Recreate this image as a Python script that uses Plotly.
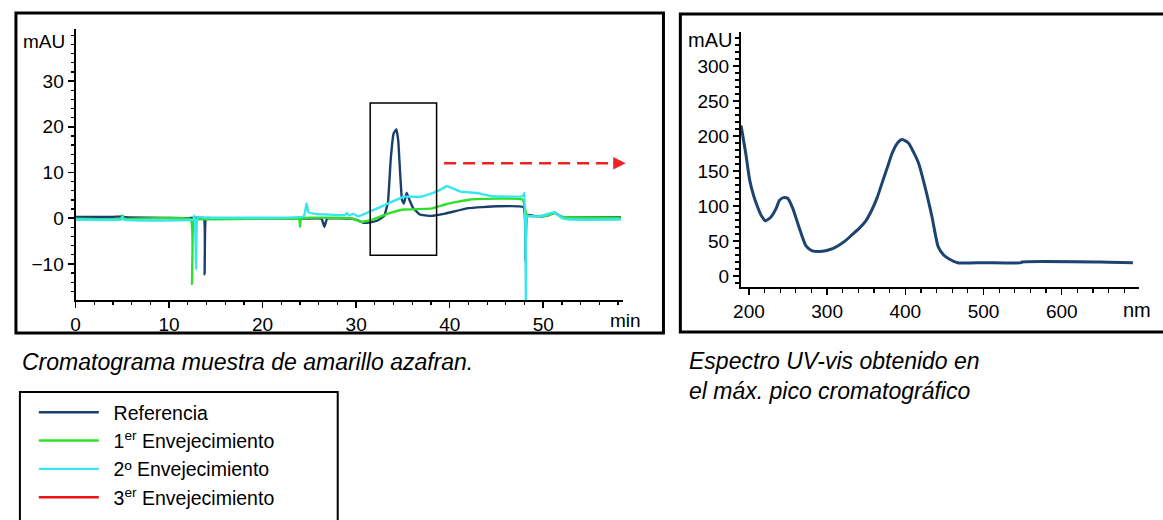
import plotly.graph_objects as go

# ---------------- data ----------------
# Chromatogram (time in min, absorbance in mAU)
ref_t = [0, 2, 4, 5.0, 5.3, 8, 12, 13.7, 13.8, 13.95, 14.5, 20, 24, 26.3, 26.6, 26.9, 29.5, 30.2,
         30.8, 31.5, 32.3, 33.0, 33.4, 33.7, 34.0, 34.3, 34.5, 34.7, 34.9, 35.1, 35.4, 35.7, 36.1,
         36.8, 38, 39.5, 42, 45, 47.9, 48.1, 48.3, 49.5, 50.5, 51.2, 52, 58.3]
ref_mau = [0.3, 0.3, 0.3, 0.4, 0.2, 0.1, 0.0, 0.0, -12.3, 0.0, 0.0, 0.0, -0.1, -0.1, -1.9, -0.1,
           -0.1, -0.5, -1.0, -0.9, -0.5, 0.5, 3.5, 13.0, 18.5, 19.5, 17.0, 10.0, 4.0, 3.2, 5.6, 4.0,
           2.2, 0.8, 0.5, 1.0, 2.2, 2.6, 2.4, -9.5, 0.7, 0.3, 0.6, 1.2, 0.3, 0.2]

env1_t = [0, 4.9, 5.0, 5.2, 12.3, 12.45, 12.6, 12.8, 20, 23.9, 24.0, 24.1, 25, 29.5, 30.5, 31.5,
          33.4, 35.1, 38, 39.7, 42.2, 47.8, 48.2, 48.5, 50.5, 51.2, 52, 58.3]
env1_mau = [-0.1, -0.1, 0.6, -0.1, -0.2, -14.4, 0.3, -0.2, -0.1, -0.2, -1.9, -0.1, 0.1, 0.0, -0.8,
            -0.5, 1.0, 1.9, 2.1, 3.1, 4.1, 4.1, 0.8, 0.4, 0.6, 1.2, 0.3, 0.1]

env2_t = [0, 4.9, 5.0, 5.2, 12.6, 12.75, 12.9, 13.05, 14, 20, 24.4, 24.7, 24.9, 25.5, 27, 28.8,
          29.0, 29.3, 29.7, 30.2, 31.2, 33.4, 35.1, 36.9, 38.6, 39.7, 41.2, 42.9, 44.6, 47.8, 48.0,
          48.15, 48.3, 49.5, 51.2, 52, 53, 58.3]
env2_mau = [-0.3, -0.3, 0.3, -0.3, -0.3, 0.6, -11.2, 0.2, 0.1, 0.1, 0.4, 3.2, 1.3, 1.0, 0.8, 0.7,
            1.1, 0.6, 1.0, 0.4, 1.2, 3.2, 4.7, 4.7, 5.8, 7.0, 5.8, 5.5, 4.8, 4.8, 5.5, -19.0, 0.5,
            0.3, 1.3, 0.0, -0.3, -0.3]

env3_t = []
env3_mau = []

series_names = ["Referencia", "1<sup>er</sup> Envejecimiento", "2º Envejecimiento",
                "3<sup>er</sup> Envejecimiento"]
series_colors = ["#1b3f6c", "#2fe02a", "#38e6f0", "#ee1515"]

# UV-vis spectrum (nm, mAU)
wl_nm = [190, 196, 201, 206, 211, 216, 221, 226, 230, 235, 239, 244, 249.5, 256, 264, 273, 281,
         290, 298, 307, 315, 324, 332, 341, 349, 357, 364, 370, 377, 383, 390, 396, 404, 410, 417,
         425, 434, 442, 449, 455, 467, 500, 548, 549, 650, 691]
spec_mau = [215, 175, 137, 115, 99, 86, 79, 82, 87, 97, 108, 112, 111, 97, 70, 43, 36, 35, 36, 39,
            44, 51, 59, 68, 78, 94, 112, 132, 155, 175, 190, 195, 190, 178, 161, 128, 85, 42, 30,
            25, 19, 19, 19, 20, 20, 19]

chrom_ticks = [0, 10, 20, 30, 40, 50]
chrom_yticks = [-10, 0, 10, 20, 30]
spec_xticks = [200, 300, 400, 500, 600]
spec_yticks = [0, 50, 100, 150, 200, 250, 300]

# ---------------- figure ----------------
W, H = 1163, 520
FONT = "Liberation Sans, Arial, sans-serif"


def px(x):
    return x / W


def py(y):
    return (H - y) / H


fig = go.Figure()
chrom = [(ref_t, ref_mau), (env1_t, env1_mau), (env2_t, env2_mau), (env3_t, env3_mau)]
for (t, v), name, col in zip(chrom, series_names, series_colors):
    fig.add_trace(go.Scatter(
        x=t if t else [None], y=v if v else [None], mode="lines", name="\u2002" + name,
        line=dict(color=col, width=2.4, shape="spline", smoothing=0.3), xaxis="x", yaxis="y"))

fig.add_trace(go.Scatter(x=wl_nm, y=spec_mau, mode="lines", showlegend=False,
                         line=dict(color="#1d4470", width=3, shape="spline", smoothing=0.6),
                         xaxis="x2", yaxis="y2"))

axis_common = dict(showline=True, linecolor="black", linewidth=2, ticks="outside", ticklen=6,
                   tickwidth=1.5, tickcolor="black", showgrid=False, zeroline=False,
                   tickfont=dict(family=FONT, size=19, color="black"))

fig.update_layout(
    width=W, height=H, margin=dict(l=0, r=0, t=0, b=0),
    paper_bgcolor="white", plot_bgcolor="white",
    xaxis=dict(domain=[px(68), px(619)], range=[0, 58.5], tickvals=chrom_ticks,
               anchor="y", minor=dict(ticks="outside", ticklen=3, dtick=2, tick0=0,
                                      tickcolor="black", tickwidth=1.2), **axis_common),
    yaxis=dict(domain=[py(300), py(29)], range=[-17.9, 41.4], tickvals=chrom_yticks,
               anchor="x", minor=dict(ticks="outside", ticklen=3, dtick=2, tick0=0,
                                      tickcolor="black", tickwidth=1.2), **axis_common),
    xaxis2=dict(domain=[px(738), px(1139)], range=[189.8, 699], tickvals=spec_xticks,
                anchor="y2", minor=dict(ticks="outside", ticklen=4, dtick=20, tick0=0,
                                        tickcolor="black", tickwidth=1.2), **axis_common),
    yaxis2=dict(domain=[py(287), py(32)], range=[-15.7, 348.6], tickvals=spec_yticks,
                anchor="x2", minor=dict(ticks="outside", ticklen=4, dtick=10, tick0=0,
                                        tickcolor="black", tickwidth=1.2), **axis_common),
    showlegend=True,
    legend=dict(x=px(26), y=py(393), xanchor="left", yanchor="top", bgcolor="rgba(0,0,0,0)",
                borderwidth=0, font=dict(family=FONT, size=19.5, color="black"),
                itemwidth=60, traceorder="normal"),
)

# frames
fig.add_shape(type="rect", xref="paper", yref="paper", x0=px(8), x1=px(660), y0=py(333),
              y1=py(13), line=dict(color="black", width=3), layer="above")
fig.add_shape(type="rect", xref="paper", yref="paper", x0=px(677), x1=px(1175), y0=py(332),
              y1=py(14), line=dict(color="black", width=3), layer="above")
fig.add_shape(type="rect", xref="paper", yref="paper", x0=px(12), x1=px(332), y0=py(530),
              y1=py(392), line=dict(color="black", width=2), layer="above")

# highlight box around main peak
fig.add_shape(type="rect", xref="x", yref="y", x0=31.5, x1=38.6, y0=-8.1, y1=25.2,
              line=dict(color="black", width=1.5))
# red dashed arrow
fig.add_shape(type="line", xref="x", yref="y", x0=39.4, x1=57.9, y0=12, y1=12,
              line=dict(color="#ee2222", width=2.5, dash="12px,7px"))
fig.add_annotation(x=px(622), y=12, xref="paper", yref="y", ax=-14, ay=0, text="",
                   showarrow=True, arrowhead=2, arrowsize=1, arrowwidth=2.5,
                   arrowcolor="#ee2222")

ann_font = dict(family=FONT, size=19, color="black")
fig.add_annotation(x=px(59), y=py(41), xref="paper", yref="paper", text="mAU", showarrow=False,
                   xanchor="right", yanchor="middle", font=ann_font)
fig.add_annotation(x=px(731), y=py(40), xref="paper", yref="paper", text="mAU", showarrow=False,
                   xanchor="right", yanchor="middle", font=dict(family=FONT, size=20, color="black"))
fig.add_annotation(x=px(622), y=py(320), xref="paper", yref="paper", text="min", showarrow=False,
                   xanchor="center", yanchor="middle", font=ann_font)
fig.add_annotation(x=px(1137), y=py(310), xref="paper", yref="paper", text="nm", showarrow=False,
                   xanchor="center", yanchor="middle", font=dict(family=FONT, size=20, color="black"))

cap_font = dict(family=FONT, size=23, color="black")
fig.add_annotation(x=px(12), y=py(362), xref="paper", yref="paper",
                   text="<i>Cromatograma muestra de amarillo azafran.</i>", showarrow=False,
                   xanchor="left", yanchor="middle", font=cap_font)
fig.add_annotation(x=px(684), y=py(346), xref="paper", yref="paper",
                   text="<i>Espectro UV-vis obtenido en<br>el máx. pico cromatográfico</i>",
                   showarrow=False, xanchor="left", yanchor="top", align="left", font=cap_font)

fig.write_html("out.html", config={"displayModeBar": False, "staticPlot": True},
               post_script="document.body.style.margin='0';"
                           "document.documentElement.style.overflow='hidden';")
